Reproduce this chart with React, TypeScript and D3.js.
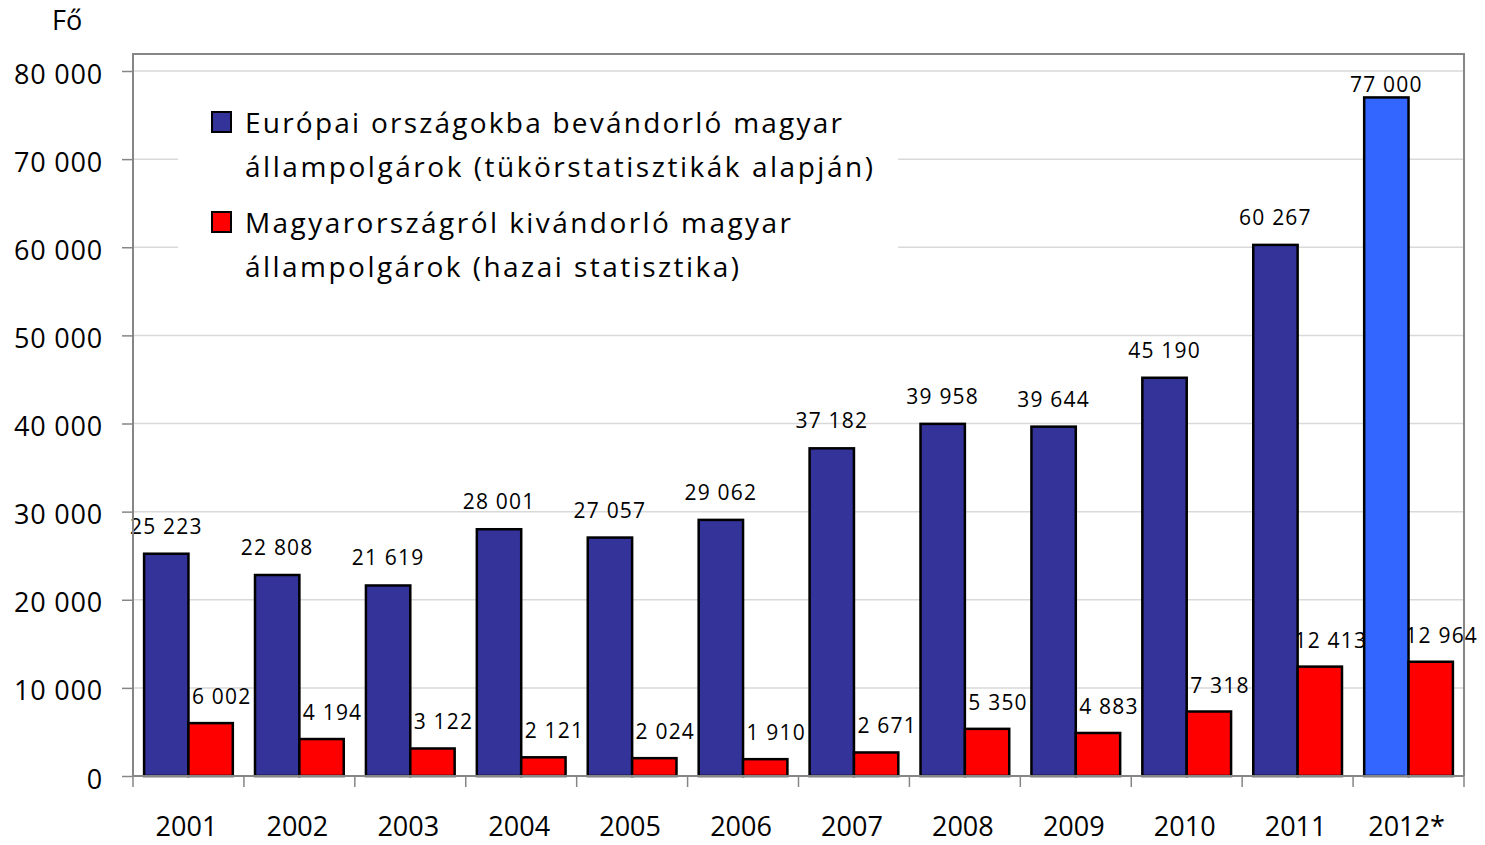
import React, { useEffect, useRef } from 'react';
import * as d3 from 'd3';

// years on the x axis
const years = ['2001', '2002', '2003', '2004', '2005', '2006', '2007', '2008', '2009', '2010', '2011', '2012*'];
// Európai országokba bevándorló magyar állampolgárok (tükörstatisztikák)
const mirrorStats = [25223, 22808, 21619, 28001, 27057, 29062, 37182, 39958, 39644, 45190, 60267, 77000];
// Magyarországról kivándorló magyar állampolgárok (hazai statisztika)
const homeStats = [6002, 4194, 3122, 2121, 2024, 1910, 2671, 5350, 4883, 7318, 12413, 12964];
const yTicks = [0, 10000, 20000, 30000, 40000, 50000, 60000, 70000, 80000];
const legendLines = [
  ['Európai országokba bevándorló magyar', 'állampolgárok (tükörstatisztikák alapján)'],
  ['Magyarországról kivándorló magyar', 'állampolgárok (hazai statisztika)'],
];
const estimated = '2012*';

const W = 1485;
const H = 845;
const FONT = '"Open Sans", "Noto Sans", sans-serif';
// rendered widths of the legend lines in the original
const legendWidths = [[597, 628], [546, 494]];

const App: React.FC = () => {
  const ref = useRef<SVGSVGElement>(null);

  useEffect(() => {
    const svg = d3.select(ref.current);
    svg.selectAll('*').remove();

    const left = 133, right = 1464, frameTop = 54, bottom = 776;

    const fmt = d3.formatLocale({ decimal: ',', thousands: ' ', grouping: [3], currency: ['', ''] }).format(',d');

    const x = d3.scaleBand().domain(years).range([left, right]).paddingInner(0.2).paddingOuter(0.1);
    const x0 = d3.scaleBand().domain(years).range([left, right]).padding(0);
    const inner = d3.scaleBand().domain(['a', 'b']).range([0, x.bandwidth()]);
    const y = d3.scaleLinear().domain([0, 80000]).range([bottom, 71]);

    // gridlines
    svg.append('g')
      .selectAll('line')
      .data(yTicks.filter(t => t > 0))
      .join('line')
      .attr('x1', left).attr('x2', right)
      .attr('y1', d => y(d)).attr('y2', d => y(d))
      .attr('stroke', '#d9d9d9').attr('stroke-width', 1.5);

    // legend background hides gridlines behind it
    svg.append('rect')
      .attr('x', 178).attr('y', 95).attr('width', 720).attr('height', 205)
      .attr('fill', '#fff');

    // data labels (drawn under the bars, as in the original)
    const labels = svg.append('g').attr('font-family', FONT).attr('font-size', 21)
      .attr('letter-spacing', 1.2).attr('fill', '#000').attr('text-anchor', 'middle');
    labels.selectAll('text.blue')
      .data(mirrorStats)
      .join('text')
      .attr('class', 'blue')
      .attr('x', (d, i) => (x(years[i]) ?? 0) + (inner('a') ?? 0) + inner.bandwidth() / 2)
      .attr('y', d => Math.max(y(d) - 20, frameTop + 38))
      .text(d => fmt(d));
    labels.selectAll('text.red')
      .data(homeStats)
      .join('text')
      .attr('class', 'red')
      .attr('x', (d, i) => (x(years[i]) ?? 0) + (inner('b') ?? 0) + inner.bandwidth() / 2 + 11)
      .attr('y', d => y(d) - 19)
      .text(d => fmt(d));

    // bars
    const groups = svg.append('g')
      .selectAll('g')
      .data(years)
      .join('g')
      .attr('transform', d => `translate(${x(d)},0)`);
    groups.append('rect')
      .attr('x', inner('a') ?? 0)
      .attr('y', (d, i) => y(mirrorStats[i]))
      .attr('width', inner.bandwidth())
      .attr('height', (d, i) => bottom - y(mirrorStats[i]))
      .attr('fill', d => (d === estimated ? '#3366ff' : '#333399'))
      .attr('stroke', '#000').attr('stroke-width', 2.5);
    groups.append('rect')
      .attr('x', inner('b') ?? 0)
      .attr('y', (d, i) => y(homeStats[i]))
      .attr('width', inner.bandwidth())
      .attr('height', (d, i) => bottom - y(homeStats[i]))
      .attr('fill', '#ff0000')
      .attr('stroke', '#000').attr('stroke-width', 2.5);

    // frame
    svg.append('path')
      .attr('d', `M${left},${bottom} V${frameTop} H${right} V${bottom}`)
      .attr('fill', 'none').attr('stroke', '#868686').attr('stroke-width', 2);

    // y axis
    const yAxis = svg.append('g')
      .attr('transform', `translate(${left},0)`)
      .call(d3.axisLeft(y).tickValues(yTicks).tickFormat(d => fmt(d as number)).tickSize(11).tickPadding(19));
    yAxis.select('.domain').remove();
    yAxis.selectAll('line').attr('stroke', '#868686').attr('stroke-width', 1.5);
    yAxis.selectAll('text')
      .attr('font-family', FONT).attr('font-size', 27).attr('letter-spacing', 0.8)
      .attr('fill', '#000').attr('dy', null).attr('y', 12);

    // x axis
    svg.append('line')
      .attr('x1', left).attr('x2', right).attr('y1', bottom).attr('y2', bottom)
      .attr('stroke', '#868686').attr('stroke-width', 2);
    const bounds = years.map(d => x0(d) ?? 0).concat([right]);
    svg.append('g')
      .selectAll('line')
      .data(bounds)
      .join('line')
      .attr('x1', d => d).attr('x2', d => d)
      .attr('y1', bottom).attr('y2', bottom + 11)
      .attr('stroke', '#868686').attr('stroke-width', 1.5);
    svg.append('g')
      .selectAll('text')
      .data(years)
      .join('text')
      .attr('x', d => (x0(d) ?? 0) + x0.bandwidth() / 2 - 2)
      .attr('y', 836)
      .attr('text-anchor', 'middle')
      .attr('font-family', FONT).attr('font-size', 27)
      .text(d => d);

    // unit
    svg.append('text')
      .attr('x', 52).attr('y', 30)
      .attr('font-family', FONT).attr('font-size', 27)
      .text('Fő');

    // legend
    const legendColors = ['#333399', '#ff0000'];
    const lg = svg.append('g').attr('font-family', FONT).attr('font-size', 28);
    legendLines.forEach((lines, i) => {
      const top = 112 + i * 100;
      lg.append('rect')
        .attr('x', 212).attr('y', top).attr('width', 19).attr('height', 20)
        .attr('fill', legendColors[i]).attr('stroke', '#000').attr('stroke-width', 2);
      lines.forEach((t, j) => {
        lg.append('text')
          .attr('x', 245).attr('y', top + 21 + j * 44)
          .attr('textLength', legendWidths[i][j])
          .attr('lengthAdjust', 'spacing')
          .text(t);
      });
    });
  }, []);

  return <svg ref={ref} width={W} height={H} style={{ position: 'absolute', left: 0, top: 0, background: '#fff' }} />;
};

export default App;
